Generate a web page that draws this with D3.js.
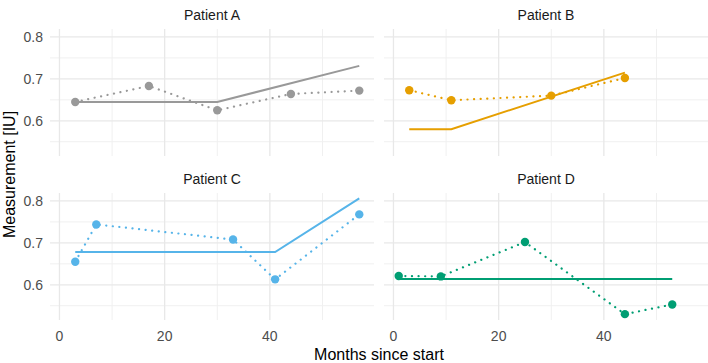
<!DOCTYPE html>
<html>
<head>
<meta charset="utf-8">
<script src="https://cdn.jsdelivr.net/npm/d3@7"></script>
<style>
  body { margin: 0; background: #fff; font-family: "Liberation Sans", Arial, sans-serif; }
</style>
</head>
<body>
<script>
// data
const patients = ["Patient A", "Patient B", "Patient C", "Patient D"];
const colors = ["#999999", "#E69F00", "#56B4E9", "#009E73"];

const obsMonths = [
  [3, 17, 30, 44, 57],
  [3, 11, 30, 44],
  [3, 7, 33, 41, 57],
  [1, 9, 25, 44, 53]
];
const obsValues = [
  [0.645, 0.683, 0.625, 0.664, 0.672],
  [0.673, 0.649, 0.660, 0.702],
  [0.655, 0.744, 0.708, 0.613, 0.768],
  [0.621, 0.620, 0.702, 0.530, 0.553]
];
const fitMonths = [
  [3, 30, 57],
  [3, 11, 44],
  [3, 41, 57],
  [1, 53]
];
const fitValues = [
  [0.645, 0.645, 0.731],
  [0.580, 0.580, 0.715],
  [0.678, 0.678, 0.806],
  [0.614, 0.614]
];
const xTicks = [0, 20, 40];
const xMinor = [10, 30, 50];
const yTicks = [0.6, 0.7, 0.8];
const yMinor = [0.55, 0.65, 0.75];

const W = 708, H = 363;
const panelW = 324, panelH = 127;
const panelX = [50, 384];
const panelY = [29, 193];

const svg = d3.select("body").append("svg")
  .attr("width", W)
  .attr("height", H);

const x = d3.scaleLinear().domain([-1.8, 59.8]).range([0, panelW]);
const y = d3.scaleLinear().domain([0.516, 0.819]).range([panelH, 0]);

const line = d3.line()
  .x(d => x(d[0]))
  .y(d => y(d[1]));

patients.forEach((name, i) => {
  const col = i % 2, row = Math.floor(i / 2);
  const g = svg.append("g")
    .attr("transform", "translate(" + panelX[col] + "," + panelY[row] + ")");

  // minor grid
  g.selectAll(".vminor").data(xMinor).enter().append("line")
    .attr("x1", d => x(d)).attr("x2", d => x(d))
    .attr("y1", 0).attr("y2", panelH)
    .attr("stroke", "#f0f0f0").attr("stroke-width", 1);
  g.selectAll(".hminor").data(yMinor).enter().append("line")
    .attr("x1", 0).attr("x2", panelW)
    .attr("y1", d => y(d)).attr("y2", d => y(d))
    .attr("stroke", "#f0f0f0").attr("stroke-width", 1);
  // major grid
  g.selectAll(".vmajor").data(xTicks).enter().append("line")
    .attr("x1", d => x(d)).attr("x2", d => x(d))
    .attr("y1", 0).attr("y2", panelH)
    .attr("stroke", "#e8e8e8").attr("stroke-width", 1.3);
  g.selectAll(".hmajor").data(yTicks).enter().append("line")
    .attr("x1", 0).attr("x2", panelW)
    .attr("y1", d => y(d)).attr("y2", d => y(d))
    .attr("stroke", "#e8e8e8").attr("stroke-width", 1.3);

  // strip title
  g.append("text")
    .attr("x", panelW / 2)
    .attr("y", -9)
    .attr("text-anchor", "middle")
    .style("font-size", "14px")
    .style("fill", "#1a1a1a")
    .text(name);

  // fitted line
  const fit = fitMonths[i].map((m, j) => [m, fitValues[i][j]]);
  g.append("path")
    .datum(fit)
    .attr("d", line)
    .attr("fill", "none")
    .attr("stroke", colors[i])
    .attr("stroke-width", 2);

  // observed, dotted
  const obs = obsMonths[i].map((m, j) => [m, obsValues[i][j]]);
  g.append("path")
    .datum(obs)
    .attr("d", line)
    .attr("fill", "none")
    .attr("stroke", colors[i])
    .attr("stroke-width", 2.2)
    .attr("stroke-linecap", "round")
    .attr("stroke-dasharray", "0.1 6.5");

  g.selectAll(".pt").data(obs).enter().append("circle")
    .attr("cx", d => x(d[0]))
    .attr("cy", d => y(d[1]))
    .attr("r", 4.2)
    .attr("fill", colors[i]);

  // y tick labels on the left column
  if (col === 0) {
    g.selectAll(".ylab").data(yTicks).enter().append("text")
      .attr("x", -7)
      .attr("y", d => y(d))
      .attr("dy", "0.35em")
      .attr("text-anchor", "end")
      .style("font-size", "14px")
      .style("fill", "#4d4d4d")
      .text(d => d3.format(".1f")(d));
  }
  // x tick labels on the bottom row
  if (row === 1) {
    g.selectAll(".xlab").data(xTicks).enter().append("text")
      .attr("x", d => x(d))
      .attr("y", panelH + 21)
      .attr("text-anchor", "middle")
      .style("font-size", "14px")
      .style("fill", "#4d4d4d")
      .text(d => d);
  }
});

// axis titles
svg.append("text")
  .attr("x", (panelX[0] + panelX[1] + panelW) / 2)
  .attr("y", 360)
  .attr("text-anchor", "middle")
  .style("font-size", "16px")
  .style("fill", "#000")
  .text("Months since start");

svg.append("text")
  .attr("transform", "translate(15," + ((panelY[0] + panelY[1] + panelH) / 2) + ") rotate(-90)")
  .attr("text-anchor", "middle")
  .style("font-size", "16px")
  .style("fill", "#000")
  .text("Measurement [IU]");
</script>
</body>
</html>
